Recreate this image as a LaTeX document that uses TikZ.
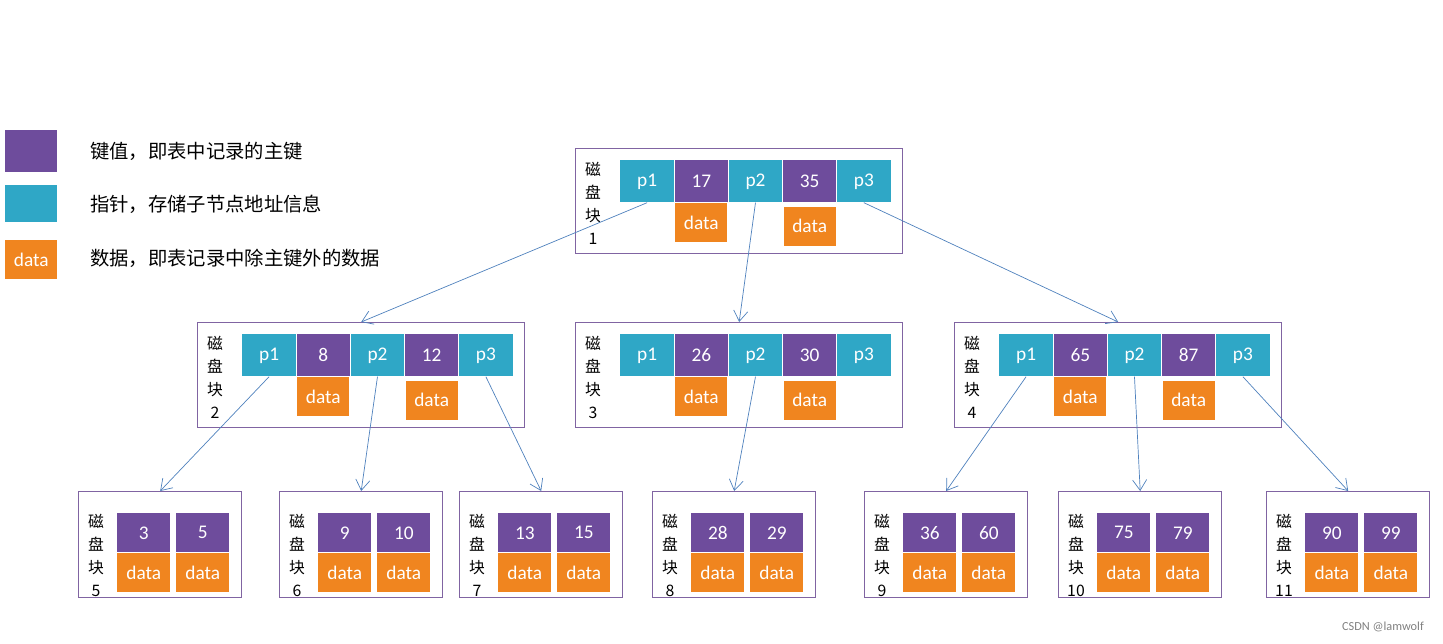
\documentclass[tikz,border=0pt]{standalone}
\usepackage{fontspec}
\setmainfont{Carlito}
\newfontfamily\cjk{Noto Sans CJK SC}
\usetikzlibrary{arrows.meta, positioning}

\definecolor{keycol}{HTML}{6E4C9C}
\definecolor{ptrcol}{HTML}{2FA7C6}
\definecolor{datcol}{HTML}{F0851F}
\definecolor{boxcol}{HTML}{8064A2}
\definecolor{arrcol}{HTML}{4F81BD}

\begin{document}
\begin{tikzpicture}[
        x=0.02cm, y=-0.02cm,
        cell/.style={
            inner sep=0pt,
            minimum width=1.07cm,
            minimum height=0.84cm,
            text=white,
            font=\fontsize{11}{12}\selectfont,
        },
        key/.style={cell, fill=keycol},
        ptr/.style={cell, fill=ptrcol},
        dat/.style={cell, fill=datcol, minimum width=1.04cm, minimum height=0.78cm},
        disk/.style={draw=boxcol, thick, inner sep=0pt, anchor=north west},
        tag/.style={anchor=north, align=center, font=\cjk\fontsize{9}{13}\selectfont},
        link/.style={draw=arrcol, -{Straight Barb[length=6pt, width=8pt]}},
    ]
    \useasboundingbox (0, 0) rectangle (1443, 644);

    % legend
    \node[fill=keycol, minimum width=1.04cm, minimum height=0.84cm, anchor=north west] (leg-key) at (5, 130) {};
    \node[fill=ptrcol, minimum width=1.04cm, minimum height=0.74cm, anchor=north west] (leg-ptr) at (5, 185) {};
    \node[dat, anchor=north west] (leg-dat) at (5, 240) {data};
    \node[anchor=west, font=\cjk\fontsize{11}{12}\selectfont] at (84, 151) {键值，即表中记录的主键};
    \node[anchor=west, font=\cjk\fontsize{11}{12}\selectfont] at (84, 204) {指针，存储子节点地址信息};
    \node[anchor=west, font=\cjk\fontsize{11}{12}\selectfont] at (84, 258) {数据，即表记录中除主键外的数据};

    % inner nodes
    \foreach \nm/\bx/\by/\ka/\kb/\lbl in {b1/575/148/17/35/1, b2/197/322/8/12/2,
        b3/575/322/26/30/3, b4/954/322/65/87/4}
    {
        \node[disk, minimum width=6.54cm, minimum height=2.1cm] (\nm) at (\bx, \by) {};
        \node[tag] at (\bx+18, \by+8) {磁\\盘\\块\\\lbl};
        \node[ptr, anchor=north west] (\nm-p1) at (\bx+45, \by+12) {p1};
        \node[key, right=0pt of \nm-p1] (\nm-k1) {\ka};
        \node[ptr, right=0pt of \nm-k1] (\nm-p2) {p2};
        \node[key, right=0pt of \nm-p2] (\nm-k2) {\kb};
        \node[ptr, right=0pt of \nm-k2] (\nm-p3) {p3};
        \node[dat, below=0pt of \nm-k1] {data};
        \node[dat, below=2pt of \nm-k2] {data};
    }

    % leaves
    \foreach \nm/\bx/\ka/\kb/\lbl in {b5/78/3/5/5, b6/279/9/10/6, b7/459/13/15/7, b8/652/28/29/8,
        b9/864/36/60/9, b10/1058/75/79/10, b11/1266/90/99/11}
    {
        \node[disk, minimum width=3.26cm, minimum height=2.12cm] (\nm) at (\bx, 491) {};
        \node[tag] at (\bx+18, 508) {磁\\盘\\块\\\lbl};
        \node[key, anchor=north west, minimum width=1.06cm, minimum height=0.78cm] (\nm-k1) at (\bx+39, 513) {\ka};
        \node[key, anchor=north west, minimum width=1.06cm, minimum height=0.78cm] (\nm-k2) at (\bx+98, 513) {\kb};
        \node[dat, below=0pt of \nm-k1, minimum width=1.06cm] {data};
        \node[dat, below=0pt of \nm-k2, minimum width=1.06cm] {data};
    }

    \draw[link] (b1-p1.south) -- (b2.north);
    \draw[link] (b1-p2.south) -- (b3.north);
    \draw[link] (b1-p3.south) -- (b4.north);
    \draw[link] (b2-p1.south) -- (b5.north);
    \draw[link] (b2-p2.south) -- (b6.north);
    \draw[link] (b2-p3.south) -- (b7.north);
    \draw[link] (b3-p2.south) -- (b8.north);
    \draw[link] (b4-p1.south) -- (b9.north);
    \draw[link] (b4-p2.south) -- (b10.north);
    \draw[link] (b4-p3.south) -- (b11.north);

    \node[anchor=south east, text=gray, font=\fontsize{7}{8}\selectfont] at (1430, 638) {CSDN @lamwolf};
\end{tikzpicture}
\end{document}
